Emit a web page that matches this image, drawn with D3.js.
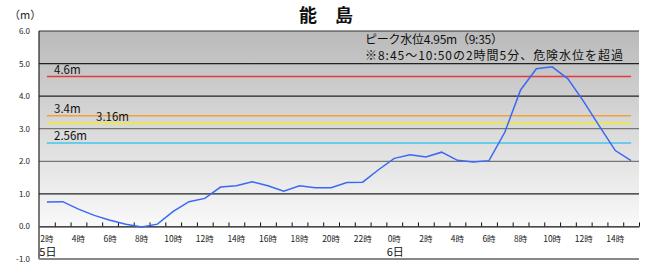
<!DOCTYPE html>
<html>
<head>
<meta charset="utf-8">
<script src="https://cdn.jsdelivr.net/npm/d3@7"></script>
<style>
  body { margin: 0; background: #fff; }
  svg text { font-family: "Noto Sans CJK JP", "Noto Sans", sans-serif; }
</style>
</head>
<body>
<svg id="figure_container"></svg>
<script>
// hourly water level, 5th 2時 .. 6th 15時
var hours = [2,3,4,5,6,7,8,9,10,11,12,13,14,15,16,17,18,19,20,21,22,23,
             0,1,2,3,4,5,6,7,8,9,10,11,12,13,14,15],
    days = [5,5,5,5,5,5,5,5,5,5,5,5,5,5,5,5,5,5,5,5,5,5,
            6,6,6,6,6,6,6,6,6,6,6,6,6,6,6,6],
    levels = [0.75,0.76,0.53,0.34,0.19,0.07,-0.02,0.07,0.46,0.76,0.86,1.21,1.25,1.37,1.25,1.08,1.25,1.19,1.19,1.35,1.36,1.74,
              2.09,2.2,2.13,2.28,2.03,1.98,2.02,2.89,4.19,4.84,4.9,4.53,3.83,3.07,2.33,2.02],
    yTicks = [6,5,4,3,2,1,0,-1],
    refValues = [4.6, 3.4, 3.16, 2.56],
    refLabels = ["4.6m", "3.4m", "3.16m", "2.56m"],
    refColors = ["#e63a3a", "#f4a236", "#f0f020", "#45c6ee"];

var plotwidth = 647, plotheight = 271,
    pLeft = 39, pRight = 639, pTop = 31, pBottom = 259;

var vis = d3.select("#figure_container").attr("width", plotwidth).attr("height", plotheight);

var y = d3.scaleLinear().domain([-1, 6]).range([pBottom, pTop]);
var xi = d3.scaleLinear().domain([0, hours.length]).range([pLeft, pRight]);
var x = function(i){ return xi(i + 0.5); };

// background gradient
var grad = vis.append("defs").append("linearGradient")
	.attr("id", "bg").attr("x1", 0).attr("y1", 0).attr("x2", 0).attr("y2", 1);
grad.append("stop").attr("offset", "0%").attr("stop-color", "#bababa");
grad.append("stop").attr("offset", "100%").attr("stop-color", "#f9f9f9");

vis.append("rect").attr("x", pLeft).attr("y", y(6)).attr("width", pRight - pLeft)
	.attr("height", y(0) - y(6)).attr("fill", "url(#bg)");

// grid lines
var gridColor = {5: "#222", 4: "#222", 3: "#777", 2: "#777", 1: "#222"};
vis.selectAll("line.grid").data([5,4,3,2,1]).enter().append("line")
	.attr("x1", pLeft).attr("x2", pRight)
	.attr("y1", function(d){ return y(d); }).attr("y2", function(d){ return y(d); })
	.attr("stroke", function(d){ return gridColor[d]; }).attr("stroke-width", 1.2);

// frame
vis.append("line").attr("x1", pLeft).attr("x2", pRight).attr("y1", y(6)).attr("y2", y(6))
	.attr("stroke", "#333").attr("stroke-width", 1.2);
vis.append("line").attr("x1", pLeft).attr("x2", pLeft).attr("y1", y(6)).attr("y2", pBottom)
	.attr("stroke", "#222").attr("stroke-width", 1.2);
vis.append("line").attr("x1", pLeft).attr("x2", pRight).attr("y1", pBottom).attr("y2", pBottom)
	.attr("stroke", "#888").attr("stroke-width", 2);

// x axis at 0 with ticks between categories
var xAxis = d3.axisBottom(xi).tickValues(d3.range(1, hours.length + 1))
	.tickSize(-4).tickSizeOuter(0).tickFormat("");
var gx = vis.append("g").attr("transform", "translate(0," + y(0) + ")").call(xAxis);
gx.select(".domain").attr("stroke", "#111").attr("stroke-width", 1.2);
gx.selectAll(".tick line").attr("stroke", "#111");

// y labels
vis.selectAll("text.ylab").data(yTicks).enter().append("text")
	.attr("x", 30).attr("y", function(d){ return y(d) + 3; })
	.attr("text-anchor", "end").attr("font-size", 8).attr("fill", "#222")
	.text(function(d){ return d.toFixed(1); });

// x labels every 2 hours
var idx = d3.range(hours.length).filter(function(i){ return hours[i] % 2 === 0; });
vis.selectAll("text.xlab").data(idx).enter().append("text")
	.attr("x", function(i){ return x(i); }).attr("y", 242)
	.attr("text-anchor", "middle").attr("font-size", 8.5).attr("fill", "#222")
	.text(function(i){ return hours[i] + "時"; });

var dayIdx = d3.range(hours.length).filter(function(i){ return i === 0 || days[i] !== days[i-1]; });
vis.selectAll("text.day").data(dayIdx).enter().append("text")
	.attr("x", function(i){ return x(i) + 1; }).attr("y", 256)
	.attr("text-anchor", "middle").attr("font-size", 11).attr("fill", "#111")
	.text(function(i){ return days[i] + "日"; });

// reference lines
vis.selectAll("line.ref").data(refValues).enter().append("line")
	.attr("x1", x(0)).attr("x2", x(hours.length - 1))
	.attr("y1", function(d){ return y(d); }).attr("y2", function(d){ return y(d); })
	.attr("stroke", function(d, i){ return refColors[i]; }).attr("stroke-width", 1.5);

vis.selectAll("text.ref").data(refValues).enter().append("text")
	.attr("x", function(d, i){ return i === 2 ? 96 : 54; })
	.attr("y", function(d){ return y(d) - 3; })
	.attr("font-size", 11.5).attr("fill", "#111")
	.text(function(d, i){ return refLabels[i]; });

// water level line
var line = d3.line().x(function(d, i){ return x(i); }).y(function(d){ return y(d); });
vis.append("path").datum(levels).attr("d", line)
	.attr("fill", "none").attr("stroke", "#3a68f5").attr("stroke-width", 1.5);

// texts
vis.append("text").attr("x", 326).attr("y", 22).attr("text-anchor", "middle")
	.attr("font-size", 18).attr("font-weight", "bold").attr("fill", "#111").text("能　島");
vis.append("text").attr("x", 9).attr("y", 19).attr("font-size", 11).attr("fill", "#222").text("（m）");
vis.append("text").attr("x", 365).attr("y", 44).attr("font-size", 12).attr("fill", "#111")
	.attr("textLength", 138).attr("lengthAdjust", "spacing")
	.text("ピーク水位4.95m（9:35）");
vis.append("text").attr("x", 365).attr("y", 59.5).attr("font-size", 12).attr("fill", "#111")
	.attr("textLength", 258).attr("lengthAdjust", "spacing")
	.text("※8:45～10:50の2時間5分、危険水位を超過");
</script>
</body>
</html>
